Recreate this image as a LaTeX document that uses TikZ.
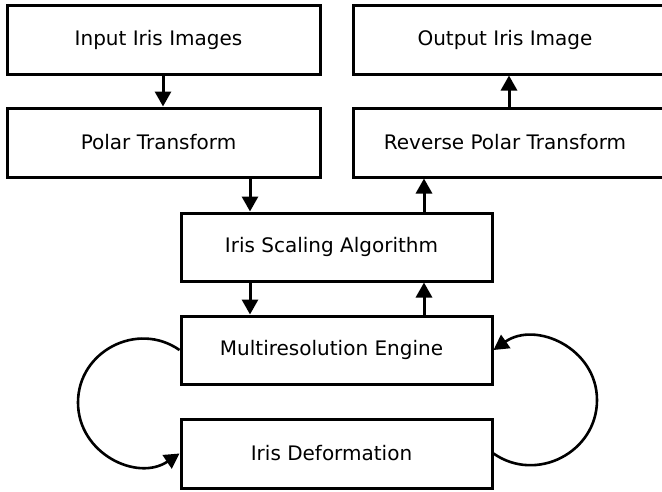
\documentclass[tikz,border=0pt]{standalone}
\usepackage{fontspec}
\setmainfont{DejaVu Sans}
\usetikzlibrary{arrows.meta}
\begin{document}
\begin{tikzpicture}[x=1pt,y=1pt,
  box/.style={draw=black, line width=3pt, minimum width=313pt, minimum height=69pt,
    inner sep=0pt, font=\fontsize{20}{24}\selectfont},
  arr/.style={line width=3pt, -{Triangle[width=16pt,length=15pt]}},
  loopc/.style={line width=2.6pt, -{Triangle[width=16pt,length=15pt]}}]
\useasboundingbox (0,0) rectangle (662,-491);
\node[box] (in)  at (163.5,-39.5) {\hspace*{-10pt}Input Iris Images};
\node[box] (pol) at (163.5,-142.5) {\hspace*{-10pt}Polar Transform};
\node[box, minimum width=312pt] (out) at (509,-39.5) {\hspace*{-8pt}Output Iris Image};
\node[box, minimum width=312pt] (rev) at (509,-142.5) {\hspace*{-8pt}Reverse Polar Transform};
\node[box, minimum width=311pt, minimum height=68pt] (sca) at (336.5,-247) {\hspace*{-10pt}Iris Scaling Algorithm};
\node[box, minimum width=311pt, minimum height=68pt] (mul) at (336.5,-350) {\hspace*{-10pt}Multiresolution Engine};
\node[box, minimum width=311pt] (def) at (336.5,-453.5) {\hspace*{-10pt}Iris Deformation};
\coordinate (c1) at (163,0);
\coordinate (c2) at (250,0);
\coordinate (c3) at (424,0);
\coordinate (c4) at (509,0);
\coordinate (L) at (78,-402.5);
\coordinate (R) at (597,-400);
\draw[arr] (in.south -| c1) -- (pol.north -| c1);
\draw[arr] (pol.south -| c2) -- (sca.north -| c2);
\draw[arr] (sca.north -| c3) -- (rev.south -| c3);
\draw[arr] (rev.north -| c4) -- (out.south -| c4);
\draw[arr] (sca.south -| c2) -- (mul.north -| c2);
\draw[arr] (mul.north -| c3) -- (sca.south -| c3);
\draw[loopc] (mul.west) to[out=145,in=90,looseness=1.15] (L)
  to[out=270,in=214,looseness=1.15] (def.west);
\draw[loopc] (def.east) to[out=-35,in=270,looseness=1.15] (R)
  to[out=90,in=35,looseness=1.15] (mul.east);
\end{tikzpicture}
\end{document}
